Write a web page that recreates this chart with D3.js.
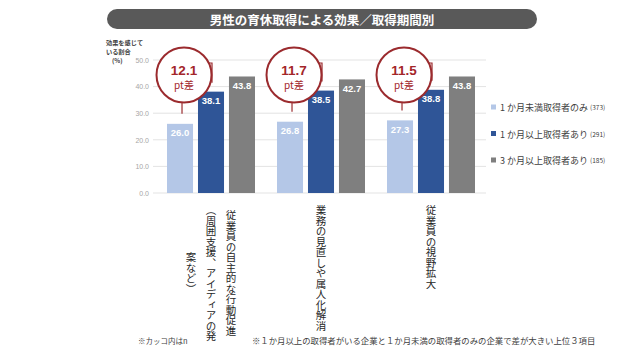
<!DOCTYPE html>
<html><head><meta charset="utf-8">
<script src="https://cdn.jsdelivr.net/npm/d3@7"></script>
<style>
html,body{margin:0;padding:0;background:#fff;}
svg{display:block;}
</style></head>
<body>
<svg id="chart" width="643" height="356"></svg>
<script>
// ---- data ----
const title = "男性の育休取得による効果／取得期間別";
const categories = ["cat1", "cat2", "cat3"];
const categoryLabels = [
  ["従業員の自主的な行動促進", "（周囲支援、アイディアの発", "案など）"],
  ["業務の見直しや属人化解消"],
  ["従業員の視野拡大"]
];
const seriesNames = ["1か月未満取得者のみ", "1か月以上取得者あり", "3か月以上取得者あり"];
const seriesN = ["(373)", "(291)", "(185)"];
const seriesLegendNum = ["1", "1", "3"];
const lessThan1 = [26.0, 26.8, 27.3];
const atLeast1 = [38.1, 38.5, 38.8];
const atLeast3 = [43.8, 42.7, 43.8];
const yTicks = [0, 10, 20, 30, 40, 50];
const yTitle = ["効果を感じて", "いる割合", "(%)"];
const footLeft = "※カッコ内はn";
const footRight = "※１か月以上の取得者がいる企業と１か月未満の取得者のみの企業で差が大きい上位３項目";

const seriesValues = [lessThan1, atLeast1, atLeast3];
const colors = ["#B4C7E7", "#2F5597", "#7F7F7F"];

const svg = d3.select("#chart");
const JP = "'Noto Sans CJK JP','Noto Sans',sans-serif";
const NUM = "'Liberation Sans',Arial,sans-serif";

// title bar
svg.append("rect").attr("x", 107).attr("y", 9).attr("width", 430).attr("height", 20)
  .attr("rx", 10).attr("fill", "#595959");
svg.append("text").attr("x", 322).attr("y", 19).attr("text-anchor", "middle")
  .attr("dominant-baseline", "central").attr("fill", "#fff")
  .attr("font-family", JP).attr("font-weight", "bold").attr("font-size", 12.5)
  .text(title);

// scales
const y = d3.scaleLinear().domain([0, 50]).range([193, 60]);
const x0 = d3.scaleBand().domain(categories).range([156, 486]);
const x1 = d3.scaleBand().domain(d3.range(3)).range([11, 99]).paddingInner(0.16);

// gridlines
svg.append("g").selectAll("line").data(yTicks).join("line")
  .attr("x1", 153).attr("x2", 486)
  .attr("y1", d => y(d)).attr("y2", d => y(d))
  .attr("stroke", "#E3E3E3").attr("stroke-width", 1);

// y axis labels
const yAxis = d3.axisLeft(y).tickValues(yTicks).tickFormat(d3.format(".1f")).tickSize(0).tickPadding(0);
const ga = svg.append("g").attr("transform", "translate(149,0)").call(yAxis);
ga.select(".domain").remove();
ga.selectAll("text").attr("fill", "#A6A6A6").attr("font-family", NUM).attr("font-size", 7);

// y title
svg.append("g").selectAll("text").data(yTitle).join("text")
  .attr("x", (d, i) => i === 2 ? 112 : 106)
  .attr("y", (d, i) => 42 + i * 9)
  .attr("dominant-baseline", "central")
  .attr("font-family", JP).attr("font-size", 6.2).attr("font-weight", "bold").attr("fill", "#404040")
  .text(d => d);

// bars
const groups = svg.append("g").selectAll("g").data(categories).join("g")
  .attr("transform", d => `translate(${x0(d)},0)`);
groups.selectAll("rect").data((c, ci) => seriesValues.map((s, si) => ({si, v: s[ci]}))).join("rect")
  .attr("x", d => x1(d.si)).attr("width", x1.bandwidth())
  .attr("y", d => y(d.v)).attr("height", d => y(0) - y(d.v))
  .attr("fill", d => colors[d.si]);
groups.selectAll("text.val").data((c, ci) => seriesValues.map((s, si) => ({si, v: s[ci]}))).join("text")
  .attr("class", "val")
  .attr("x", d => x1(d.si) + x1.bandwidth() / 2).attr("y", d => y(d.v) + 9)
  .attr("text-anchor", "middle").attr("dominant-baseline", "central")
  .attr("fill", "#fff").attr("font-family", NUM).attr("font-weight", "bold").attr("font-size", 9.5)
  .text(d => d.v.toFixed(1));

// annotations
const red = "#9B2B2E";
const cy = 75, r = 27.5;
categories.forEach((c, ci) => {
  const g = svg.append("g");
  const gx = x0(c);
  const lightC = gx + x1(0) + x1.bandwidth() / 2;
  const darkC = gx + x1(1) + x1.bandwidth() / 2;
  const cx = lightC + 4;
  const diff = (atLeast1[ci] - lessThan1[ci]).toFixed(1);
  g.append("line").attr("x1", cx - 2).attr("x2", cx - 2)
    .attr("y1", cy + r).attr("y2", y(lessThan1[ci]) - 10)
    .attr("stroke", red).attr("stroke-width", 1.2);
  g.append("path")
    .attr("d", `M${cx + r - 3},${cy - 12} H${darkC + 1} V${y(atLeast1[ci]) - 9}`)
    .attr("fill", "none").attr("stroke", red).attr("stroke-width", 1.2);
  g.append("circle").attr("cx", cx).attr("cy", cy).attr("r", r)
    .attr("fill", "#fff").attr("stroke", red).attr("stroke-width", 2);
  g.append("text").attr("x", cx).attr("y", cy - 5).attr("text-anchor", "middle")
    .attr("dominant-baseline", "central").attr("fill", "#A3262A")
    .attr("font-family", NUM).attr("font-weight", "bold").attr("font-size", 13.5).text(diff);
  g.append("text").attr("x", cx).attr("y", cy + 9).attr("text-anchor", "middle")
    .attr("dominant-baseline", "central").attr("fill", "#A3262A")
    .attr("font-family", JP).attr("font-size", 10).text("pt差");
});

// category labels (vertical)
const fsCat = 10.5;
categoryLabels.forEach((lines, ci) => {
  const cxm = x0(categories[ci]) + x0.bandwidth() / 2;
  const n = lines.length;
  const maxLen = d3.max(lines, l => l.length) * fsCat;
  lines.forEach((l, li) => {
    svg.append("text")
      .attr("x", cxm + (n - 1) / 2 * 20 - li * 20)
      .attr("y", 205 + maxLen / 2)
      .attr("text-anchor", "middle")
      .style("writing-mode", "vertical-rl")
      .attr("font-family", JP).attr("font-size", fsCat).attr("fill", "#262626")
      .text(l);
  });
});

// legend
const lg = svg.append("g");
seriesNames.forEach((s, i) => {
  const yy = 107 + i * 26.5;
  lg.append("rect").attr("x", 491).attr("y", yy - 2.5).attr("width", 5).attr("height", 5).attr("fill", colors[i]);
  const t = lg.append("text").attr("x", 500).attr("y", yy).attr("dominant-baseline", "central")
    .attr("font-family", JP).attr("fill", "#404040");
  t.append("tspan").attr("font-size", 9).text(seriesLegendNum[i] + " " + s.slice(1) + " ");
  t.append("tspan").attr("font-size", 6.5).text(seriesN[i]);
});

// footnotes
svg.append("text").attr("x", 138).attr("y", 340).attr("dominant-baseline", "central")
  .attr("font-family", JP).attr("font-size", 7.5).attr("fill", "#404040").text(footLeft);
svg.append("text").attr("x", 252).attr("y", 340).attr("dominant-baseline", "central")
  .attr("font-family", JP).attr("font-size", 8.4).attr("fill", "#404040").text(footRight);
</script>
</body></html>
